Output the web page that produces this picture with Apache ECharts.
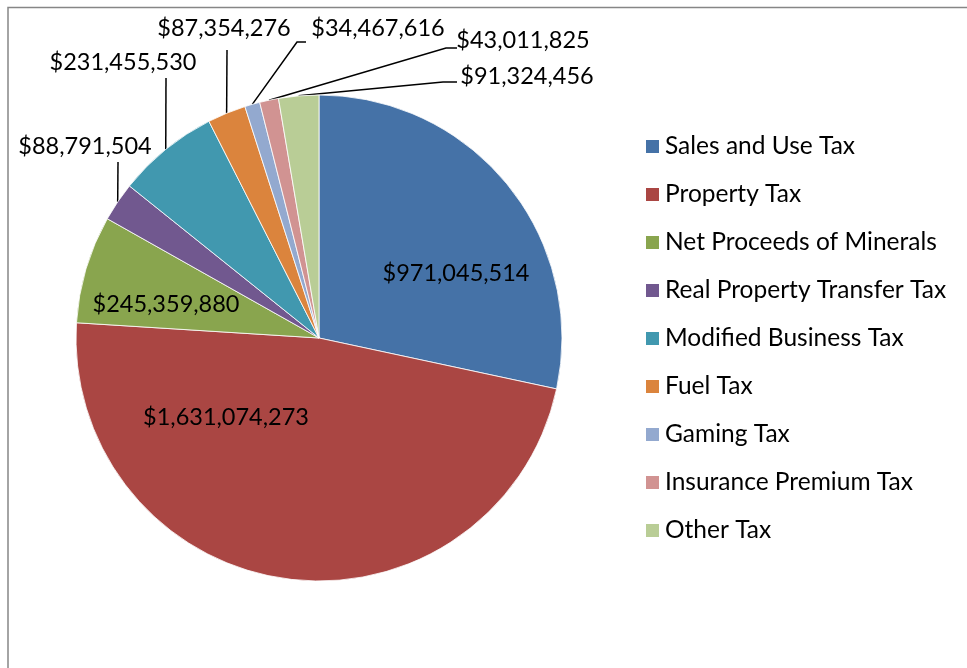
<!DOCTYPE html>
<html lang="en">
<head>
  <meta charset="UTF-8">
  <title>Tax Revenue</title>
  <style>
    html, body { margin: 0; padding: 0; background: #fff; }
    #chart { width: 967px; height: 668px; }
  </style>
</head>
<body>
  <div id="chart"></div>
  <script src="https://cdn.jsdelivr.net/npm/echarts@6/dist/echarts.min.js"></script>
  <script>
    var categories = ['Sales and Use Tax', 'Property Tax', 'Net Proceeds of Minerals',
      'Real Property Transfer Tax', 'Modified Business Tax', 'Fuel Tax', 'Gaming Tax',
      'Insurance Premium Tax', 'Other Tax'];
    var values = [971045514, 1631074273, 245359880, 88791504, 231455530,
      87354276, 34467616, 43011825, 91324456];

    var colors = ['#4572A7', '#AA4643', '#89A54E', '#71588F', '#4198AF',
      '#DB843D', '#93A9CF', '#D19392', '#B9CD96'];

    // label centres (layout only) and leader line bend/end points
    var labelPos = [[456, 273], [226, 417], [166, 304], [85, 146], [123, 62],
      [224, 28], [378, 28], [523, 40], [527, 76]];
    var leaderPts = [null, null, null,
      [[118, 162], [118, 162]],
      [[166, 78], [166, 78]],
      [[227, 50], [227, 50]],
      [[297, 42], [306, 42]],
      [[446, 48], [457, 48]],
      [[443, 82], [457, 82]]];

    function money(v) {
      return '$' + v.toString().replace(/\B(?=(\d{3})+(?!\d))/g, ',');
    }

    var chart = echarts.init(document.getElementById('chart'));
    var font = 'Lato, "Noto Sans", sans-serif';

    var pieData = categories.map(function (name, i) {
      var item = { name: name, value: values[i] };
      if (i < 3) item.labelLine = { show: false };
      return item;
    });

    chart.setOption({
      animation: false,
      color: colors,
      graphic: [{
        type: 'polyline',
        shape: { points: [[8, 668], [8, 7.5], [967, 7.5]] },
        style: { stroke: '#868686', lineWidth: 1.5, fill: null }
      }],
      legend: {
        orient: 'vertical',
        left: 644,
        top: 134,
        padding: 0,
        icon: 'rect',
        itemWidth: 15,
        itemHeight: 15,
        itemGap: 23,
        textStyle: { fontFamily: font, fontSize: 24.5, color: '#000', lineHeight: 24 },
        data: categories
      },
      series: [{
        type: 'pie',
        center: [319, 338],
        radius: 243,
        startAngle: 90,
        clockwise: true,
        avoidLabelOverlap: false,
        itemStyle: { borderColor: '#fff', borderWidth: 0.8 },
        label: {
          show: true,
          position: 'outside',
          fontFamily: font,
          fontSize: 23.5,
          color: '#000',
          formatter: function (p) { return money(p.value); }
        },
        labelLine: { show: true, lineStyle: { color: '#000', width: 1.5 } },
        labelLayout: function (params) {
          var i = params.dataIndex;
          var res = {
            x: labelPos[i][0],
            y: labelPos[i][1],
            align: 'center',
            verticalAlign: 'middle'
          };
          if (leaderPts[i] && params.labelLinePoints) {
            var s = params.labelLinePoints[0];
            res.labelLinePoints = [[s[0], s[1]], leaderPts[i][0], leaderPts[i][1]];
          }
          return res;
        },
        data: pieData
      }]
    });
  </script>
</body>
</html>
